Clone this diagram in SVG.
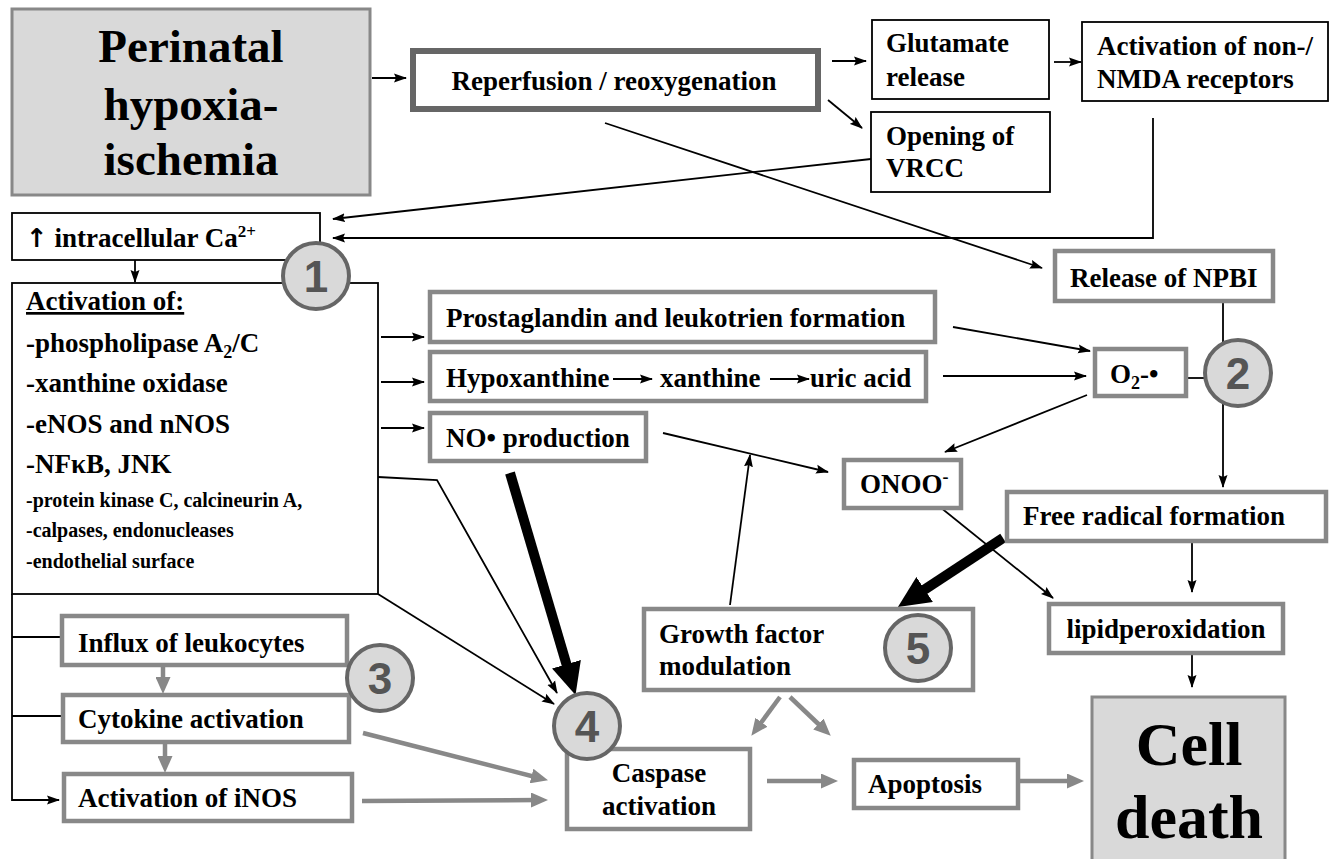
<svg xmlns="http://www.w3.org/2000/svg" width="1332" height="859" viewBox="0 0 1332 859">
<defs>
<style>
text{font-family:"Liberation Serif","Times New Roman",serif;font-weight:bold;fill:#000}
.t{font-size:27px}
.s{font-size:20px}
.big{font-size:47px;text-anchor:middle}
.huge{font-size:62px;text-anchor:middle}
.mid{text-anchor:middle}
.bk{fill:#fff;stroke:#000;stroke-width:1.8}
.gb{fill:#fff;stroke:#888;stroke-width:4.5}
.gf{fill:#d9d9d9;stroke:#888;stroke-width:3}
.rp{fill:#fff;stroke:#666;stroke-width:6}
.c{fill:#d9d9d9;stroke:#666;stroke-width:4}
.n{font-family:"Liberation Sans",Arial,sans-serif;font-size:44px;font-weight:bold;fill:#555;text-anchor:middle}
.l{fill:none;stroke:#000;stroke-width:1.8}
.la{fill:none;stroke:#000;stroke-width:1.8;marker-end:url(#ab)}
.ga{fill:none;stroke:#888;stroke-width:4.5;marker-end:url(#ag)}
.ta{fill:none;stroke:#000;stroke-width:10;marker-end:url(#at)}
</style>
<marker id="ab" markerUnits="userSpaceOnUse" markerWidth="13" markerHeight="10" refX="12" refY="5" orient="auto"><path d="M0,0.5 L13,5 L0,9.5 L2,5 Z" fill="#000"/></marker>
<marker id="ag" markerUnits="userSpaceOnUse" markerWidth="17" markerHeight="15" refX="8" refY="7.5" orient="auto"><path d="M0,0 L17,7.5 L0,15 Z" fill="#888"/></marker>
<marker id="at" markerUnits="userSpaceOnUse" markerWidth="32" markerHeight="30" refX="10" refY="15" orient="auto"><path d="M0,0 L32,15 L0,30 Z" fill="#000"/></marker>
</defs>
<rect width="1332" height="859" fill="#fff"/>

<g id="connectors">
<path class="la" d="M372,78 L406,78"/>
<path class="la" d="M832,61 L866,61"/>
<path class="la" d="M828,100 L862,128"/>
<path class="la" d="M1054,62 L1081,62"/>
<path class="la" d="M871,159 L333,219"/>
<path class="la" d="M1153,118 L1153,238 L333,238"/>
<path class="la" d="M605,123 L1042,268"/>
<path class="la" d="M135,260 L135,282"/>
<path class="la" d="M381,337 L424,337"/>
<path class="la" d="M381,382 L424,382"/>
<path class="la" d="M381,428 L424,428"/>
<path class="la" d="M953,327 L1090,351"/>
<path class="la" d="M943,376 L1086,376"/>
<path class="la" d="M1087,395 L945,452"/>
<path class="la" d="M1223,303 L1223,487"/>
<path class="l" d="M1188,378 L1206,378"/>
<path class="la" d="M663,433 L828,472"/>
<path class="la" d="M730,605 L750,455"/>
<path class="la" d="M940,507 L1053,598"/>
<path class="la" d="M1192,543 L1192,592"/>
<path class="la" d="M1192,655 L1192,687"/>
<path class="la" d="M378,477 L437,480 L557,693"/>
<path class="la" d="M378,594 L554,704"/>
<path class="la" d="M12,594 L12,800 L59,800"/>
<path class="l" d="M12,637 L60,637"/>
<path class="l" d="M12,716 L61,716"/>
<path class="ta" d="M510,473 L569.3,673.8"/>
<path class="ta" d="M1003,538 L916.3,595"/>
<path class="ga" d="M163,667 L163,685"/>
<path class="ga" d="M165,744 L165,764"/>
<path class="ga" d="M363,733 L539.3,778"/>
<path class="ga" d="M362,801 L539,800"/>
<path class="ga" d="M767,781 L829,781"/>
<path class="ga" d="M1020,781 L1075,781"/>
<path class="ga" d="M780,697 L756.7,728.6"/>
<path class="ga" d="M790,697 L824.2,729.5"/>
</g>

<g id="perinatal">
<rect class="gf" x="12" y="9" width="358" height="186" stroke-width="2"/>
<text class="big" x="191" y="62">Perinatal</text>
<text class="big" x="191" y="120">hypoxia-</text>
<text class="big" x="191" y="175">ischemia</text>
</g>
<g id="reperfusion">
<rect class="rp" x="413" y="51" width="405" height="58"/>
<text class="t mid" x="614" y="90">Reperfusion / reoxygenation</text>
</g>
<g id="glutamate">
<rect class="bk" x="872" y="20" width="177" height="79"/>
<text class="t" x="886" y="52">Glutamate</text>
<text class="t" x="886" y="86">release</text>
</g>
<g id="nmda">
<rect class="bk" x="1082" y="22" width="246" height="79"/>
<text class="t" x="1097" y="55">Activation of non-/</text>
<text class="t" x="1097" y="88">NMDA receptors</text>
</g>
<g id="vrcc">
<rect class="bk" x="871" y="112" width="179" height="80"/>
<text class="t" x="886" y="145">Opening of</text>
<text class="t" x="886" y="177">VRCC</text>
</g>
<g id="calcium">
<rect class="bk" x="12" y="213" width="308" height="47"/>
<text class="t" x="26" y="247"><tspan font-family="DejaVu Sans, sans-serif" font-size="26">↑</tspan> intracellular Ca<tspan font-size="17" dy="-10">2+</tspan></text>
</g>
<g id="activation">
<rect class="bk" x="12" y="283" width="366" height="311"/>
<text class="t" x="26" y="310" text-decoration="underline">Activation of:</text>
<text class="t" x="26" y="352">-phospholipase A<tspan font-size="18" dy="6">2</tspan><tspan dy="-6">/C</tspan></text>
<text class="t" x="26" y="392">-xanthine oxidase</text>
<text class="t" x="26" y="433">-eNOS and nNOS</text>
<text class="t" x="26" y="473">-NFκB, JNK</text>
<text class="s" x="26" y="507">-protein kinase C, calcineurin A,</text>
<text class="s" x="26" y="537">-calpases, endonucleases</text>
<text class="s" x="26" y="568">-endothelial surface</text>
</g>
<g id="circle1">
<circle class="c" cx="316" cy="276" r="33"/>
<text class="n" x="316" y="292">1</text>
</g>
<g id="npbi">
<rect class="gb" x="1055" y="251" width="218" height="50"/>
<text class="t" x="1070" y="287">Release of NPBI</text>
</g>
<g id="prostaglandin">
<rect class="gb" x="430" y="292" width="505" height="50"/>
<text class="t" x="446" y="327">Prostaglandin and leukotrien formation</text>
</g>
<g id="hypoxanthine">
<rect class="gb" x="430" y="352" width="496" height="49"/>
<text class="t" x="446" y="387">Hypoxanthine</text>
<path class="la" d="M613,379 L652,379"/>
<text class="t" x="660" y="387">xanthine</text>
<path class="la" d="M770,379 L809,379"/>
<text class="t" x="810" y="387">uric acid</text>
</g>
<g id="no">
<rect class="gb" x="430" y="413" width="216" height="48"/>
<text class="t" x="446" y="447">NO• production</text>
</g>
<g id="o2">
<rect class="gb" x="1095" y="349" width="91" height="47"/>
<text class="t" x="1110" y="383">O<tspan font-size="18" dy="6">2</tspan><tspan dy="-6">-•</tspan></text>
</g>
<g id="circle2">
<circle class="c" cx="1238" cy="373" r="33"/>
<text class="n" x="1238" y="389">2</text>
</g>
<g id="onoo">
<rect class="gb" x="844" y="460" width="117" height="48"/>
<text class="t" x="860" y="493">ONOO<tspan font-size="18" dy="-10">-</tspan></text>
</g>
<g id="freeradical">
<rect class="gb" x="1007" y="492" width="319" height="49"/>
<text class="t" x="1023" y="525">Free radical formation</text>
</g>
<g id="lipid">
<rect class="gb" x="1049" y="604" width="234" height="49"/>
<text class="t mid" x="1166" y="638">lipidperoxidation</text>
</g>
<g id="celldeath">
<rect class="gf" x="1092" y="697" width="193" height="170" stroke-width="4.5"/>
<text class="huge" x="1189" y="765">Cell</text>
<text class="huge" x="1189" y="838">death</text>
</g>
<g id="apoptosis">
<rect class="gb" x="854" y="760" width="164" height="48"/>
<text class="t" x="868" y="793">Apoptosis</text>
</g>
<g id="caspase">
<rect class="gb" x="567" y="749" width="183" height="80"/>
<text class="t mid" x="659" y="782">Caspase</text>
<text class="t mid" x="659" y="815">activation</text>
</g>
<g id="growth">
<rect class="gb" x="644" y="609" width="329" height="81"/>
<text class="t" x="659" y="643">Growth factor</text>
<text class="t" x="659" y="675">modulation</text>
</g>
<g id="circle5">
<circle class="c" cx="918" cy="648" r="33"/>
<text class="n" x="918" y="664">5</text>
</g>
<g id="circle4">
<circle class="c" cx="587" cy="726" r="33"/>
<text class="n" x="587" y="742">4</text>
</g>
<g id="influx">
<rect class="gb" x="62" y="616" width="285" height="49"/>
<text class="t" x="78" y="652">Influx of leukocytes</text>
</g>
<g id="cytokine">
<rect class="gb" x="63" y="695" width="286" height="47"/>
<text class="t" x="78" y="728">Cytokine activation</text>
</g>
<g id="inos">
<rect class="gb" x="64" y="774" width="288" height="47"/>
<text class="t" x="78" y="807">Activation of iNOS</text>
</g>
<g id="circle3">
<circle class="c" cx="380" cy="678" r="33"/>
<text class="n" x="380" y="694">3</text>
</g>
</svg>
